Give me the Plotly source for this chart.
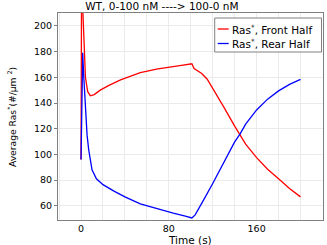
import plotly.graph_objects as go

t_front = [0, 0.7, 1.5, 2.5, 4, 6, 8.5, 12, 17.5, 25, 36, 54, 70, 90, 101, 103, 106, 110, 115, 120,
           130, 140, 145, 150, 160, 170, 180, 190, 200]
front = [96, 300, 215, 185, 160, 149, 145.6, 146.5, 150, 153.5, 158, 163.7, 166.5, 169, 170.5, 166.8,
         165.3, 163, 158.5, 151.5, 137, 122, 115, 108, 97.5, 88.5, 81, 73.5, 67]

t_rear = [0, 1.5, 2.5, 4, 5.5, 7, 10, 14, 20, 30, 40, 54, 70, 84, 95, 101, 104, 108, 112, 120,
          130, 140, 145, 150, 160, 170, 180, 190, 200]
rear = [96, 179, 160, 134.7, 115, 103.6, 88, 81, 76.5, 71.5, 67, 61.5, 57.5, 54.3, 52, 50.6, 53,
        58.5, 65, 77.4, 93.5, 109.8, 116, 123.5, 134.6, 143, 149.4, 154.5, 158.4]

series_names = ["Ras<sup>*</sup>, Front Half", "Ras<sup>*</sup>, Rear Half"]
series_colors = ["#ff0000", "#0000ff"]
x_ticks = [0, 80, 160]
y_ticks = [60, 80, 100, 120, 140, 160, 180, 200]

W, H = 327, 245
L, R, T, B = 58, 3.5, 13, 25
PW, PH = W - L - R, H - T - B


def px(x):
    return (x - L) / PW


def py(y):
    return 1 - (y - T) / PH


font = "DejaVu Sans"
grid = "#ebebeb"
frame = "#808080"

fig = go.Figure()
for tx, ty, nm, col in [(t_front, front, series_names[0], series_colors[0]),
                        (t_rear, rear, series_names[1], series_colors[1])]:
    fig.add_trace(go.Scatter(x=tx, y=ty, mode="lines", name=nm, showlegend=False,
                             line=dict(color=col, width=1.3)))

# manual legend (box, line samples, labels)
shapes = [dict(type="rect", xref="paper", yref="paper", x0=px(215), x1=px(322),
               y0=py(52), y1=py(18), line=dict(color=frame, width=1), fillcolor="white", layer="above")]
annotations = []
for i, (nm, col) in enumerate(zip(series_names, series_colors)):
    yc = 29 + i * 14.5
    shapes.append(dict(type="line", xref="paper", yref="paper", x0=px(218), x1=px(229),
                       y0=py(yc), y1=py(yc), line=dict(color=col, width=1.3), layer="above"))
    annotations.append(dict(text=nm, xref="paper", yref="paper", x=px(230), y=py(yc),
                            xanchor="left", yanchor="middle", showarrow=False,
                            font=dict(size=10.5)))

annotations.append(dict(text="Time (s)", xref="paper", yref="paper", x=px(190), y=py(240),
                        xanchor="center", yanchor="middle", showarrow=False, font=dict(size=10.5)))
annotations.append(dict(text="Average Ras<sup>*</sup>(#/μm <sup>2</sup>)", xref="paper",
                        yref="paper", x=px(12), y=py(117), xanchor="center", yanchor="middle",
                        textangle=-90, showarrow=False, font=dict(size=9.2)))

fig.update_layout(
    width=W, height=H,
    margin=dict(l=L, r=R, t=T, b=B, autoexpand=False),
    paper_bgcolor="white", plot_bgcolor="white",
    font=dict(family=font, size=10, color="black"),
    title=dict(text="WT, 0-100 nM ----> 100-0 nM", x=0.495, xanchor="center",
               y=0.99, yanchor="top", font=dict(size=10.5)),
    showlegend=False,
    shapes=shapes,
    annotations=annotations,
    xaxis=dict(range=[-21, 220.5], tickvals=x_ticks, showgrid=True, gridcolor=grid,
               minor=dict(dtick=20, tick0=0, showgrid=True, gridcolor=grid),
               showline=True, linecolor=frame, mirror=True, ticks="",
               zeroline=False, automargin=False,
               tickfont=dict(size=9.5)),
    yaxis=dict(range=[49, 210], tickvals=y_ticks, showgrid=True, gridcolor=grid,
               showline=True, linecolor=frame, mirror=True, ticks="outside",
               ticklen=3, tickcolor=frame, zeroline=False, automargin=False,
               tickfont=dict(size=9.5)),
)

fig.write_html("out.html", config={"displayModeBar": False},
               post_script="document.body.style.margin='0';")
